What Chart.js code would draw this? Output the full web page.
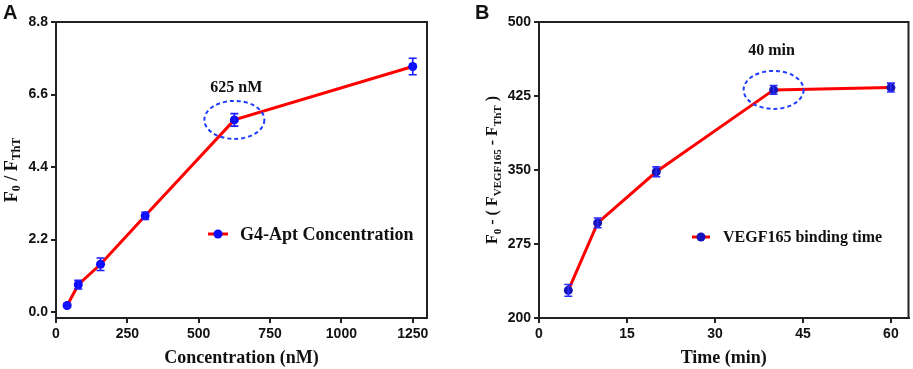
<!DOCTYPE html>
<html lang="en">
<head>
    <meta charset="UTF-8" />
    <title>G4-Apt concentration and VEGF165 binding time</title>
    <script src="https://cdn.jsdelivr.net/npm/chart.js"></script>
    <style>
        body { margin: 0; background: #fff; }
        .wrap { display: flex; }
        .panel { position: relative; height: 369px; }
    </style>
</head>
<body>
    <div class="wrap">
        <div class="panel" style="width:460px"><canvas id="chartA"></canvas></div>
        <div class="panel" style="width:453px"><canvas id="chartB"></canvas></div>
    </div>

    <script>
        // Panel A: F0/FThT vs G4-Apt concentration
        const concA = [39, 78, 156, 312.5, 625, 1250];
        const ratioA = [0.2, 0.83, 1.45, 2.92, 5.83, 7.45];
        const errA = [0.05, 0.13, 0.19, 0.11, 0.19, 0.25];
        const ticksAX = [0, 250, 500, 750, 1000, 1250];
        const ticksAY = [0, 2.2, 4.4, 6.6, 8.8];

        // Panel B: signal vs VEGF165 binding time
        const timeB = [5, 10, 20, 40, 60];
        const signalB = [228, 296.4, 348.2, 431.2, 433.5];
        const errB = [6, 5, 5, 4.5, 4.5];
        const ticksBX = [0, 15, 30, 45, 60];
        const ticksBY = [200, 275, 350, 425, 500];

        const SERIF = '"Liberation Serif", "Times New Roman", serif';
        const SANS = '"Liberation Sans", Arial, sans-serif';

        // draws text made of normal + subscript pieces, centred on (x, y)
        function richText(ctx, parts, x, y, size, subSize, rotate) {
            ctx.save();
            ctx.translate(x, y);
            if (rotate) ctx.rotate(-Math.PI / 2);
            let total = 0;
            parts.forEach(p => {
                ctx.font = 'bold ' + (p.sub ? subSize : size) + 'px ' + SERIF;
                total += ctx.measureText(p.t).width;
            });
            let cx = -total / 2;
            ctx.fillStyle = '#111';
            ctx.textBaseline = 'middle';
            ctx.textAlign = 'left';
            parts.forEach(p => {
                ctx.font = 'bold ' + (p.sub ? subSize : size) + 'px ' + SERIF;
                ctx.fillText(p.t, cx, p.sub ? size * 0.3 : 0);
                cx += ctx.measureText(p.t).width;
            });
            ctx.restore();
        }

        const deco = {
            id: 'deco',
            afterDatasetsDraw(chart, args, o) {
                const ctx = chart.ctx;
                const area = chart.chartArea;
                const xs = chart.scales.x, ys = chart.scales.y;
                const ds = chart.data.datasets[0];

                // top and right frame
                ctx.save();
                ctx.strokeStyle = '#222';
                ctx.lineWidth = 2;
                ctx.beginPath();
                ctx.moveTo(area.left, area.top);
                ctx.lineTo(area.right, area.top);
                ctx.lineTo(area.right, area.bottom);
                ctx.stroke();

                // error bars
                ctx.strokeStyle = o.errColor;
                ctx.lineWidth = 1.6;
                ds.data.forEach((p, i) => {
                    const px = xs.getPixelForValue(p.x);
                    const y1 = ys.getPixelForValue(p.y + o.err[i]);
                    const y2 = ys.getPixelForValue(p.y - o.err[i]);
                    ctx.beginPath();
                    ctx.moveTo(px, y1); ctx.lineTo(px, y2);
                    ctx.moveTo(px - 4, y1); ctx.lineTo(px + 4, y1);
                    ctx.moveTo(px - 4, y2); ctx.lineTo(px + 4, y2);
                    ctx.stroke();
                });

                // dashed ellipse on highlighted point + note
                const hp = ds.data[o.mark];
                const hx = xs.getPixelForValue(hp.x), hy = ys.getPixelForValue(hp.y);
                ctx.strokeStyle = '#1f3cff';
                ctx.lineWidth = 2;
                ctx.setLineDash([4, 3]);
                ctx.beginPath();
                ctx.ellipse(hx, hy, 30, 19, 0, 0, Math.PI * 2);
                ctx.stroke();
                ctx.setLineDash([]);
                ctx.fillStyle = '#111';
                ctx.font = 'bold 16px ' + SERIF;
                ctx.textAlign = 'center';
                ctx.textBaseline = 'middle';
                ctx.fillText(o.note, hx + o.noteDx, hy + o.noteDy);

                // legend
                const lg = o.legend;
                ctx.strokeStyle = ds.borderColor;
                ctx.lineWidth = 3;
                ctx.beginPath();
                ctx.moveTo(lg.x, lg.y); ctx.lineTo(lg.x + lg.w, lg.y);
                ctx.stroke();
                ctx.fillStyle = ds.pointBackgroundColor;
                ctx.beginPath();
                ctx.arc(lg.x + lg.w / 2, lg.y, 4.5, 0, Math.PI * 2);
                ctx.fill();
                ctx.fillStyle = '#111';
                ctx.textAlign = 'left';
                ctx.font = 'bold ' + lg.size + 'px ' + SERIF;
                ctx.fillText(ds.label, lg.x + lg.w + lg.gap, lg.y + 1);

                // panel letter
                ctx.font = 'bold 20px ' + SANS;
                ctx.textBaseline = 'top';
                ctx.fillText(o.letter, o.letterX, 3);
                ctx.restore();

                // axis titles
                richText(ctx, o.xTitle, (area.left + area.right) / 2, 358, 18, 12, false);
                richText(ctx, o.yTitle.parts, o.yTitle.x, (area.top + area.bottom) / 2, o.yTitle.size, o.yTitle.sub, true);
            }
        };

        function axis(min, max, ticks, size) {
            return {
                type: 'linear',
                min: min,
                max: max,
                afterBuildTicks: s => { s.ticks = ticks.map(v => ({ value: v })); },
                afterFit: s => {
                    if (s.isHorizontal()) s.height = size; else s.width = size;
                },
                ticks: {
                    color: '#111',
                    padding: 3,
                    font: { family: SANS, size: 14, weight: 'bold' },
                    callback: v => (max < 10 ? v.toFixed(1) : v)
                },
                grid: { drawOnChartArea: false, drawTicks: true, tickLength: 5, color: '#222', lineWidth: 2 },
                border: { color: '#222', width: 2 }
            };
        }

        function makeChart(id, xs, ys, label, pointColor, xAxis, yAxis, padRight, decoOpts) {
            return new Chart(document.getElementById(id), {
                type: 'scatter',
                data: {
                    datasets: [{
                        label: label,
                        data: xs.map((x, i) => ({ x: x, y: ys[i] })),
                        showLine: true,
                        borderColor: '#ff0000',
                        borderWidth: 3,
                        pointRadius: 4.5,
                        pointBackgroundColor: pointColor,
                        pointBorderWidth: 0
                    }]
                },
                options: {
                    responsive: true,
                    maintainAspectRatio: false,
                    animation: false,
                    layout: { padding: { top: 22, right: padRight, left: 0, bottom: 0 } },
                    scales: { x: xAxis, y: yAxis },
                    plugins: {
                        legend: { display: false },
                        tooltip: { enabled: false },
                        deco: decoOpts
                    }
                },
                plugins: [deco]
            });
        }

        makeChart('chartA', concA, ratioA, 'G4-Apt Concentration', '#0a0aff',
            axis(0, 1300, ticksAX, 51), axis(-0.18, 8.8, ticksAY, 56), 33, {
                err: errA, errColor: '#1a1aff', mark: 4, note: '625 nM', noteDx: 2, noteDy: -32,
                legend: { x: 208, y: 234, w: 20, gap: 12, size: 18 },
                letter: 'A', letterX: 3,
                xTitle: [{ t: 'Concentration (nM)' }],
                yTitle: { x: 12, size: 18, sub: 12, parts: [
                    { t: 'F' }, { t: '0', sub: true }, { t: ' / F' }, { t: 'ThT', sub: true }] }
            });

        makeChart('chartB', timeB, signalB, 'VEGF165 binding time', '#1414b8',
            axis(0, 63, ticksBX, 51), axis(200, 500, ticksBY, 79), 3, {
                err: errB, errColor: '#2a2aff', mark: 3, note: '40 min', noteDx: -2, noteDy: -39,
                legend: { x: 232, y: 237, w: 18, gap: 13, size: 16 },
                letter: 'B', letterX: 15,
                xTitle: [{ t: 'Time (min)' }],
                yTitle: { x: 33, size: 16, sub: 11, parts: [
                    { t: 'F' }, { t: '0', sub: true }, { t: ' - ( F' }, { t: 'VEGF165', sub: true },
                    { t: ' - F' }, { t: 'ThT', sub: true }, { t: ' )' }] }
            });
    </script>
</body>
</html>
